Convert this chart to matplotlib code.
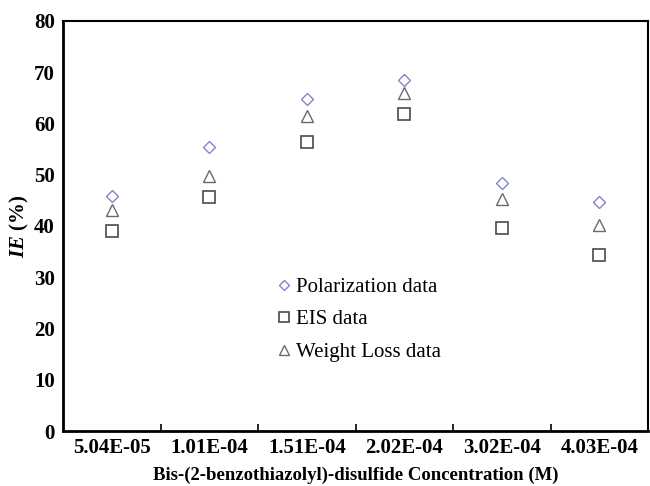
import matplotlib
matplotlib.use("Agg")
import matplotlib.pyplot as plt
import numpy as np

concentrations = ["5.04E-05", "1.01E-04", "1.51E-04", "2.02E-04", "3.02E-04", "4.03E-04"]
polarization = [45.8, 55.5, 64.8, 68.4, 48.4, 44.7]
eis = [39.1, 45.6, 56.4, 61.8, 39.7, 34.3]
weight_loss = [43.1, 49.8, 61.4, 66.0, 45.2, 40.1]

plt.rcParams['font.family'] = ['Liberation Serif', 'DejaVu Serif']
plt.rcParams['mathtext.fontset'] = 'custom'
plt.rcParams['mathtext.rm'] = 'Liberation Serif'
plt.rcParams['mathtext.it'] = 'Liberation Serif:italic'
plt.rcParams['mathtext.bf'] = 'Liberation Serif:bold'
plt.rcParams['mathtext.bfit'] = 'Liberation Serif:italic:bold'

fig = plt.figure(figsize=(6.5, 4.86), dpi=100)
ax = fig.add_axes([0.097, 0.113, 0.9, 0.844])

x = np.arange(len(concentrations))
ax.plot(x, polarization, linestyle='none', marker='D', markersize=6.5, markeredgewidth=1.0,
        markerfacecolor='none', markeredgecolor='#8484cc', label='Polarization data')
ax.plot(x, eis, linestyle='none', marker='s', markersize=8, markeredgewidth=1.2,
        markerfacecolor='none', markeredgecolor='#4a4a4a', label='EIS data')
ax.plot(x, weight_loss, linestyle='none', marker='^', markersize=8, markeredgewidth=1.0,
        markerfacecolor='none', markeredgecolor='#6a6a6a', label='Weight Loss data')

ax.set_xlim(-0.5, len(concentrations) - 0.5)
ax.set_ylim(0, 80)
ax.set_yticks(np.arange(0, 81, 10))
ax.set_yticklabels([str(v) for v in range(0, 81, 10)], fontsize=15, fontweight='bold')
ax.tick_params(axis='y', length=0, pad=6)

ax.set_xticks(x)
ax.set_xticklabels(concentrations, fontsize=15, fontweight='bold')
ax.tick_params(axis='x', which='major', length=0, pad=5)
ax.set_xticks(x[:-1] + 0.5, minor=True)
ax.tick_params(axis='x', which='minor', direction='in', length=5, width=1.2)

for side in ['left', 'bottom']:
    ax.spines[side].set_linewidth(2.0)
for side in ['top', 'right']:
    ax.spines[side].set_linewidth(1.5)

ax.set_xlabel('Bis-(2-benzothiazolyl)-disulfide Concentration (M)', fontsize=13.5,
              fontweight='bold', labelpad=6.5)
ax.set_ylabel(r'$\mathbfit{IE}$ (%)', fontsize=15, fontweight='bold', labelpad=2)

leg = ax.legend(loc='upper left', bbox_to_anchor=(0.355, 0.395), frameon=False,
                fontsize=15, handlelength=0.5, handletextpad=0.3, labelspacing=0.62,
                borderaxespad=0, markerscale=0.85)

fig.savefig('out.png', dpi=100)
